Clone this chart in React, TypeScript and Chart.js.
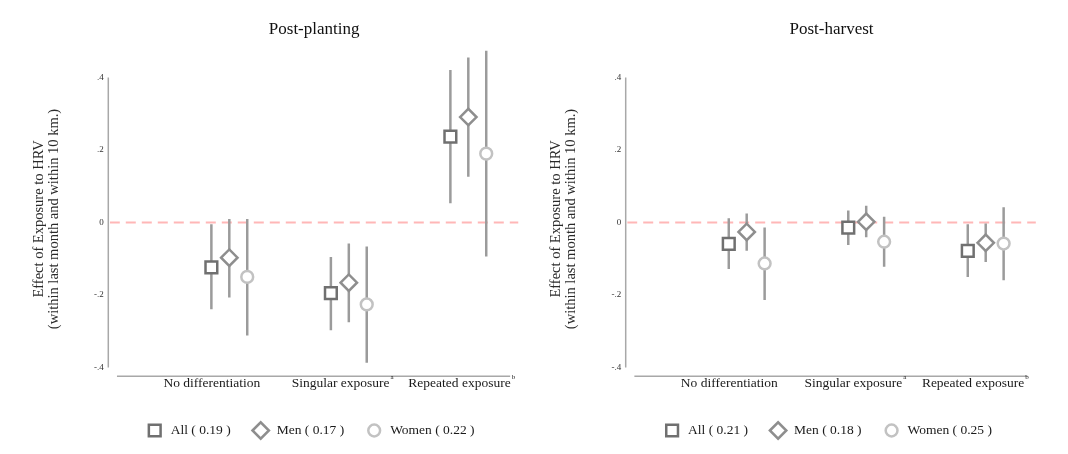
import { useEffect, useRef } from 'react';
import { Chart, registerables } from 'chart.js';

Chart.register(...registerables);

// Exposure categories on the x axis, with their footnote markers
const categories = ['No differentiation', 'Singular exposure', 'Repeated exposure'];
const categoryNotes = ['', 'a', 'b'];
const seriesNames = ['All', 'Men', 'Women'];
const yTickValues = [-0.4, -0.2, 0, 0.2, 0.4];

// Post-planting: point estimates and 95% CI bounds
const plantAllEst = [-0.124, -0.195, 0.237];
const plantAllLo = [-0.239, -0.297, 0.053];
const plantAllHi = [-0.005, -0.095, 0.421];
const plantMenEst = [-0.097, -0.166, 0.291];
const plantMenLo = [-0.207, -0.275, 0.126];
const plantMenHi = [0.01, -0.058, 0.455];
const plantWomenEst = [-0.15, -0.226, 0.19];
const plantWomenLo = [-0.312, -0.387, -0.094];
const plantWomenHi = [0.01, -0.066, 0.474];
const plantFit = ['0.19', '0.17', '0.22'];

// Post-harvest: point estimates and 95% CI bounds
const harvAllEst = [-0.059, -0.014, -0.078];
const harvAllLo = [-0.128, -0.062, -0.15];
const harvAllHi = [0.012, 0.033, -0.005];
const harvMenEst = [-0.026, 0.002, -0.056];
const harvMenLo = [-0.078, -0.041, -0.109];
const harvMenHi = [0.025, 0.046, -0.003];
const harvWomenEst = [-0.113, -0.053, -0.058];
const harvWomenLo = [-0.214, -0.122, -0.159];
const harvWomenHi = [-0.014, 0.016, 0.042];
const harvFit = ['0.21', '0.18', '0.25'];

const SERIF = "'Liberation Serif', 'DejaVu Serif', serif";
const OFFSETS = [-0.15, 0, 0.15];
const MARKERS = [
  { style: 'rect', radius: 8.3, color: '#707070' },
  { style: 'rectRot', radius: 8.2, color: '#8e8e8e' },
  { style: 'circle', radius: 5.9, color: '#c2c2c2' },
];
const BAR_COLOR = '#9b9b9b';

type PanelProps = {
  id: string;
  title: string;
  est: number[][];
  lo: number[][];
  hi: number[][];
  fit: string[];
  labelPos: number[];
  axisWidth: number;
  padRight: number;
};

function drawMarker(ctx: CanvasRenderingContext2D, style: string, x: number, y: number, r: number, color: string) {
  ctx.save();
  ctx.strokeStyle = color;
  ctx.fillStyle = '#fff';
  ctx.lineWidth = 2.5;
  ctx.beginPath();
  if (style === 'rect') {
    const s = r * Math.SQRT1_2;
    ctx.rect(x - s, y - s, 2 * s, 2 * s);
  } else if (style === 'rectRot') {
    ctx.moveTo(x - r, y);
    ctx.lineTo(x, y - r);
    ctx.lineTo(x + r, y);
    ctx.lineTo(x, y + r);
    ctx.closePath();
  } else {
    ctx.arc(x, y, r, 0, Math.PI * 2);
  }
  ctx.fill();
  ctx.stroke();
  ctx.restore();
}

function Panel(p: PanelProps) {
  const ref = useRef<HTMLCanvasElement | null>(null);

  useEffect(() => {
    if (!ref.current) return;

    const datasets: any[] = [
      {
        label: 'zero',
        data: [{ x: 0, y: 0 }, { x: 3.42, y: 0 }],
        showLine: true,
        borderColor: 'rgba(255,165,165,0.8)',
        borderWidth: 2,
        borderDash: [10, 6],
        pointRadius: 0,
        order: 3,
      },
    ];

    seriesNames.forEach((name, s) => {
      const bars: any[] = [];
      p.est[s].forEach((_, i) => {
        const x = i + 1 + OFFSETS[s];
        bars.push({ x, y: p.lo[s][i] }, { x, y: p.hi[s][i] }, { x, y: null });
      });
      datasets.push({
        label: name + ' CI',
        data: bars,
        showLine: true,
        spanGaps: false,
        borderColor: BAR_COLOR,
        borderWidth: 2.5,
        pointRadius: 0,
        order: 2,
      });
    });

    seriesNames.forEach((name, s) => {
      const m = MARKERS[s];
      datasets.push({
        label: name,
        data: p.est[s].map((v, i) => ({ x: i + 1 + OFFSETS[s], y: v })),
        showLine: false,
        pointStyle: m.style,
        pointRadius: m.radius,
        pointBorderWidth: 2.5,
        pointBorderColor: m.color,
        pointBackgroundColor: '#fff',
        order: 1,
      });
    });

    const decor = {
      id: 'decor' + p.id,
      beforeDatasetsDraw(chart: any) {
        const { ctx, chartArea, scales } = chart;
        const xs = scales.x;
        const ys = scales.y;
        ctx.save();
        ctx.strokeStyle = '#a8a8a8';
        ctx.lineWidth = 1.5;
        // y axis line spans the labelled range only
        ctx.beginPath();
        ctx.moveTo(chartArea.left - 1.5, ys.getPixelForValue(0.4));
        ctx.lineTo(chartArea.left - 1.5, ys.getPixelForValue(-0.4));
        ctx.stroke();
        // x axis line
        ctx.beginPath();
        ctx.moveTo(xs.getPixelForValue(0.06), chartArea.bottom);
        ctx.lineTo(xs.getPixelForValue(3.35), chartArea.bottom);
        ctx.stroke();
        ctx.restore();
      },
      afterDraw(chart: any) {
        const { ctx, chartArea, scales } = chart;
        const xs = scales.x;
        ctx.save();
        // category labels with footnote superscripts
        ctx.fillStyle = '#1a1a1a';
        ctx.textBaseline = 'middle';
        categories.forEach((c, i) => {
          ctx.font = '13.5px ' + SERIF;
          ctx.textAlign = 'center';
          const cx = xs.getPixelForValue(p.labelPos[i]);
          const ly = chartArea.bottom + 7;
          ctx.fillText(c, cx, ly);
          if (categoryNotes[i]) {
            const w = ctx.measureText(c).width;
            ctx.font = '7px ' + SERIF;
            ctx.textAlign = 'left';
            ctx.fillText(categoryNotes[i], cx + w / 2 + 1, ly - 6);
          }
        });

        // rotated y axis title
        ctx.font = '14.5px ' + SERIF;
        ctx.fillStyle = '#2a2a2a';
        ctx.textAlign = 'center';
        const ty = 219;
        ctx.save();
        ctx.translate(chartArea.left - 71, ty);
        ctx.rotate(-Math.PI / 2);
        ctx.fillText('Effect of Exposure to HRV', 0, 0);
        ctx.restore();
        ctx.save();
        ctx.translate(chartArea.left - 56, ty);
        ctx.rotate(-Math.PI / 2);
        ctx.fillText('(within last month and within 10 km.)', 0, 0);
        ctx.restore();

        // legend
        ctx.font = '13.5px ' + SERIF;
        ctx.textAlign = 'left';
        const texts = seriesNames.map((n, s) => n + ' ( ' + p.fit[s] + ' )');
        const widths = texts.map((t) => ctx.measureText(t).width);
        const half = 7;
        const textGap = 16;
        const itemGap = 30;
        // total span: first marker left edge to last text end
        let total = half;
        widths.forEach((w, s) => {
          total += textGap + w;
          if (s < widths.length - 1) total += itemGap;
        });
        const mid = (chartArea.left + chartArea.right) / 2 - 3;
        let cx = mid - total / 2 + half;
        const ly = 430.5;
        texts.forEach((t, s) => {
          const m = MARKERS[s];
          drawMarker(ctx, m.style, cx, ly, m.radius, m.color);
          ctx.fillStyle = '#1a1a1a';
          ctx.fillText(t, cx + textGap, ly);
          cx += textGap + widths[s] + itemGap;
        });
        ctx.restore();
      },
    };

    const chart = new Chart(ref.current, {
      type: 'scatter',
      data: { datasets },
      plugins: [decor],
      options: {
        animation: false,
        responsive: false,
        devicePixelRatio: 1,
        layout: { padding: { top: 0, left: 0, right: p.padRight, bottom: 77.8 } },
        plugins: {
          legend: { display: false },
          tooltip: { enabled: false },
          title: {
            display: true,
            text: p.title,
            fullSize: false,
            color: '#111',
            font: { family: SERIF, size: 17, weight: 'normal', lineHeight: 1.2 },
            padding: { top: 19.8, bottom: 1.05 },
          },
        },
        scales: {
          x: {
            type: 'linear',
            display: false,
            min: 0,
            max: 3.42,
          },
          y: {
            type: 'linear',
            min: -0.424,
            max: 0.5,
            grid: { display: false, drawTicks: false },
            border: { display: false },
            afterFit: (scale: any) => {
              scale.width = p.axisWidth;
            },
            afterBuildTicks: (scale: any) => {
              scale.ticks = yTickValues.map((v) => ({ value: v }));
            },
            ticks: {
              padding: 6,
              color: '#333',
              font: { family: SERIF, size: 9 },
              callback: (v: any) => {
                const n = Number(v);
                if (Math.abs(n) < 1e-9) return '0';
                return (n < 0 ? '-' : '') + '.' + Math.round(Math.abs(n) * 10);
              },
            },
          },
        },
      } as any,
    });

    return () => chart.destroy();
  }, []);

  return <canvas ref={ref} width={534} height={454} style={{ display: 'block', width: 534, height: 454 }} />;
}

export default function App() {
  return (
    <div style={{ position: 'absolute', left: 0, top: 0, width: 1068, height: 454, display: 'flex', background: '#fff' }}>
      <Panel
        id="plant"
        title="Post-planting"
        est={[plantAllEst, plantMenEst, plantWomenEst]}
        lo={[plantAllLo, plantMenLo, plantWomenLo]}
        hi={[plantAllHi, plantMenHi, plantWomenHi]}
        fit={plantFit}
        labelPos={[0.854, 1.931, 2.926]}
        axisWidth={109.8}
        padRight={15.5}
      />
      <Panel
        id="harv"
        title="Post-harvest"
        est={[harvAllEst, harvMenEst, harvWomenEst]}
        lo={[harvAllLo, harvMenLo, harvWomenLo]}
        hi={[harvAllHi, harvMenHi, harvWomenHi]}
        fit={harvFit}
        labelPos={[0.854, 1.893, 2.894]}
        axisWidth={93.2}
        padRight={32.1}
      />
    </div>
  );
}
